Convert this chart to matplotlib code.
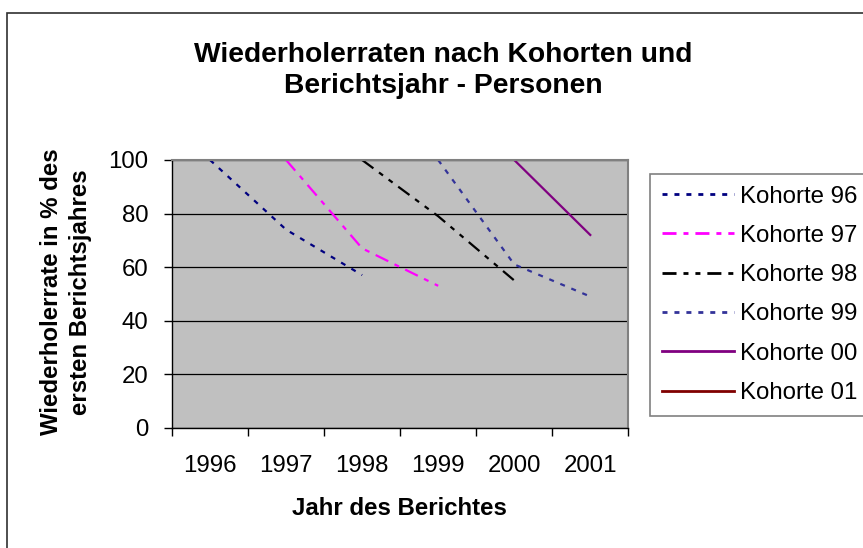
import numpy as np
import matplotlib
matplotlib.use("Agg")
import matplotlib.pyplot as plt
from matplotlib.patches import Rectangle

plt.rcParams['font.family'] = ['Liberation Sans', 'DejaVu Sans']
plt.rcParams['lines.scale_dashes'] = False

nan = np.nan
years = ['1996', '1997', '1998', '1999', '2000', '2001']
k96 = [100, 74, 57, nan, nan, nan]
k97 = [nan, 100, 67, 53, nan, nan]
k98 = [nan, nan, 100, 79, 55, nan]
k99 = [nan, nan, nan, 100, 61, 49]
k00 = [nan, nan, nan, nan, 100, 72]
k01 = [nan, nan, nan, nan, nan, 100]
labels = ['Kohorte 96', 'Kohorte 97', 'Kohorte 98', 'Kohorte 99', 'Kohorte 00', 'Kohorte 01']
yticks = [0, 20, 40, 60, 80, 100]

W, H = 863, 548
FS = 17.3
fig = plt.figure(figsize=(W / 100, H / 100), dpi=100)
fig.patch.set_facecolor('white')

# outer chart frame
fig.patches.append(Rectangle((7 / W, -0.2), 1.5, 1.2 - 13 / H,
                             transform=fig.transFigure, fill=False,
                             edgecolor='#303030', linewidth=1.2))

ax = fig.add_axes([172 / W, 1 - 427.7 / H, (628.3 - 172) / W, (427.7 - 160) / H])
ax.set_facecolor('#C0C0C0')

x = np.arange(len(years))
styles = [
    dict(color='#000080', linestyle=(0, (3.6, 5.0))),
    dict(color='#FF00FF', linestyle=(0, (10.1, 5.0, 3.6, 5.0))),
    dict(color='#000000', linestyle=(0, (10.1, 5.0, 3.6, 5.0, 3.6, 5.0))),
    dict(color='#333399', linestyle=(0, (3.6, 5.0))),
    dict(color='#800080', linestyle='-'),
    dict(color='#800000', linestyle='-'),
]
series = [k96, k97, k98, k99, k00, k01]
for s, st, lab in zip(series, styles, labels):
    ax.plot(x, s, linewidth=1.6, label=lab, dash_capstyle='butt', **st)

ax.set_xlim(-0.5, len(years) - 0.5)
ax.set_ylim(0, 100)
ax.set_yticks(yticks)
ax.set_yticklabels([str(v) for v in yticks], fontsize=FS)
ax.yaxis.grid(True, color='#000000', linewidth=0.9)
ax.set_axisbelow(True)

ax.set_xticks(np.arange(-0.5, len(years), 1.0))
ax.set_xticklabels([])
ax.set_xticks(x, minor=True)
ax.set_xticklabels(years, minor=True, fontsize=FS)
ax.tick_params(axis='x', which='major', direction='out', length=6, width=1, color='black')
ax.tick_params(axis='x', which='minor', length=0, pad=19.5)
ax.tick_params(axis='y', direction='out', length=6, width=1, color='black', pad=11)

for side in ['left', 'bottom']:
    ax.spines[side].set_color('black')
    ax.spines[side].set_linewidth(1.0)
for side in ['top', 'right']:
    ax.spines[side].set_color('#808080')
    ax.spines[side].set_linewidth(1.5)

# titles
fig.text(443 / W, 1 - 62 / H, 'Wiederholerraten nach Kohorten und', fontsize=20.3,
         fontweight='bold', ha='center', va='baseline')
fig.text(443 / W, 1 - 93 / H, 'Berichtsjahr - Personen', fontsize=20.3,
         fontweight='bold', ha='center', va='baseline')

fig.text(66 / W, 1 - 292 / H, 'Wiederholerrate in % des\nersten Berichtsjahres',
         fontsize=FS, fontweight='bold', rotation=90, ha='center', va='center',
         multialignment='center', linespacing=1.3)

fig.text(399 / W, 1 - 515 / H, 'Jahr des Berichtes', fontsize=FS,
         fontweight='bold', ha='center', va='baseline')

leg = ax.legend(loc='upper left', bbox_to_anchor=(650 / W, 1 - 174 / H),
                bbox_transform=fig.transFigure, fontsize=FS, frameon=True,
                fancybox=False, shadow=False, handlelength=3.0, handletextpad=0.25,
                labelspacing=0.72, borderpad=0.48, borderaxespad=0)
leg.get_frame().set_edgecolor('#606060')
leg.get_frame().set_linewidth(1.2)
leg.get_frame().set_facecolor('white')
for line in leg.get_lines():
    line.set_linewidth(2.0)

fig.savefig('out.png', dpi=100)
